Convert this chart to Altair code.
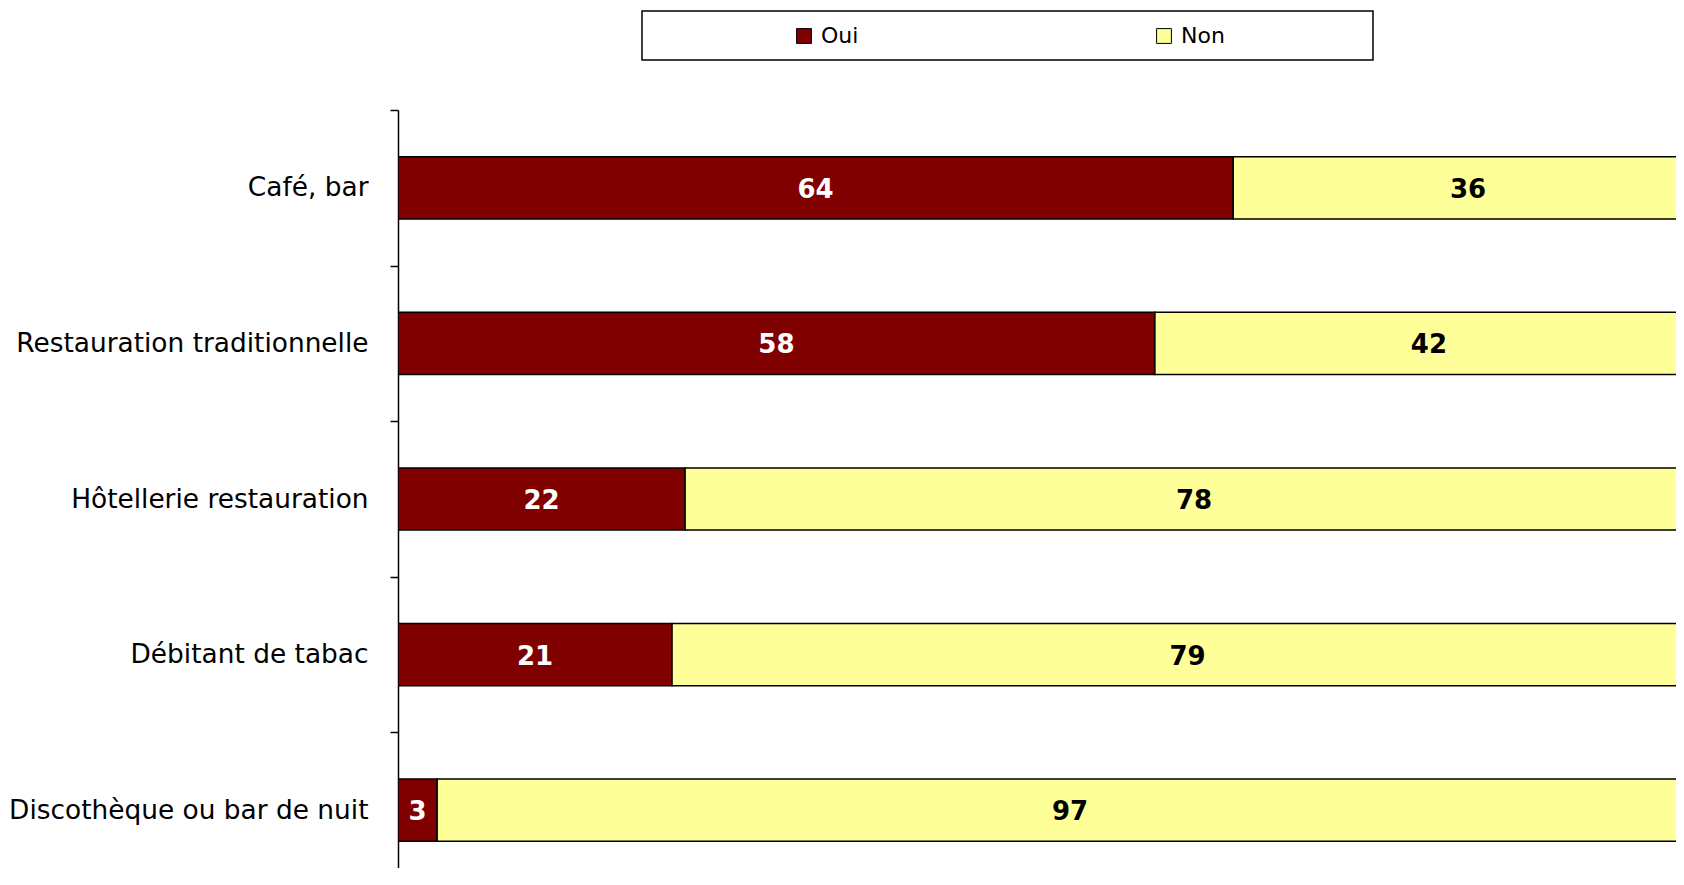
import altair as alt
import pandas as pd

categories = ["Café, bar", "Restauration traditionnelle", "Hôtellerie restauration",
              "Débitant de tabac", "Discothèque ou bar de nuit"]
oui = [64, 58, 22, 21, 3]
non = [36, 42, 78, 79, 97]
series = ["Oui", "Non"]
colors = ["#800000", "#FFFF99"]

rows = []
for c, o, n in zip(categories, oui, non):
    rows.append({"cat": c, "series": "Oui", "value": o, "start": 0, "end": o})
    rows.append({"cat": c, "series": "Non", "value": n, "start": o, "end": o + n})
df = pd.DataFrame(rows)
df["mid"] = (df["start"] + df["end"]) / 2

FONT = "DejaVu Sans"

y_enc = alt.Y("cat:N", sort=categories, title=None,
              scale=alt.Scale(range=[0, 778], paddingInner=0, paddingOuter=0),
              axis=alt.Axis(tickBand="extent", tickSize=8, tickColor="black", tickWidth=1.5,
                            domainColor="black", domainWidth=1.5, labelFont=FONT,
                            labelFontSize=26.4, labelColor="black", labelPadding=22,
                            labelLimit=400))
x_scale = alt.Scale(domain=[0, 100], range=[0, 1305], nice=False)

frame = alt.Chart(pd.DataFrame({"a": [0]})).mark_rect(
    fill="white", stroke="black", strokeWidth=1.5
).encode(x=alt.value(244), x2=alt.value(975), y=alt.value(-99), y2=alt.value(-50))

bars = alt.Chart(df).mark_bar(stroke="black", strokeWidth=1.5, clip=True,
                              height={"band": 0.4}).encode(
    y=y_enc,
    x=alt.X("start:Q", scale=x_scale, axis=None),
    x2="end:Q",
    color=alt.Color("series:N", sort=series,
                    scale=alt.Scale(domain=series, range=colors),
                    legend=alt.Legend(title=None, orient="none", legendX=395, legendY=-85,
                                      direction="horizontal", columns=2, columnPadding=294,
                                      symbolType="square", symbolSize=220,
                                      symbolStrokeColor="black", symbolStrokeWidth=1,
                                      labelFont=FONT, labelFontSize=22, labelColor="black",
                                      labelOffset=6, padding=0)),
)

labels = alt.Chart(df).mark_text(font=FONT, fontSize=26, fontWeight="bold", dy=2,
                                 baseline="middle", align="center", clip=True).encode(
    y=alt.Y("cat:N", sort=categories),
    x=alt.X("mid:Q", scale=x_scale),
    text="value:Q",
    color=alt.condition("datum.series == 'Oui'", alt.value("white"), alt.value("black")),
)

chart = alt.layer(frame, bars, labels).properties(
    width=1278, height=758,
    padding={"left": 390, "top": 102, "right": 0, "bottom": 0},
    autosize=alt.AutoSizeParams(type="none"),
    background="white",
).configure_view(stroke=None)

chart.save("out.html", embed_options={"renderer": "svg", "actions": False})
